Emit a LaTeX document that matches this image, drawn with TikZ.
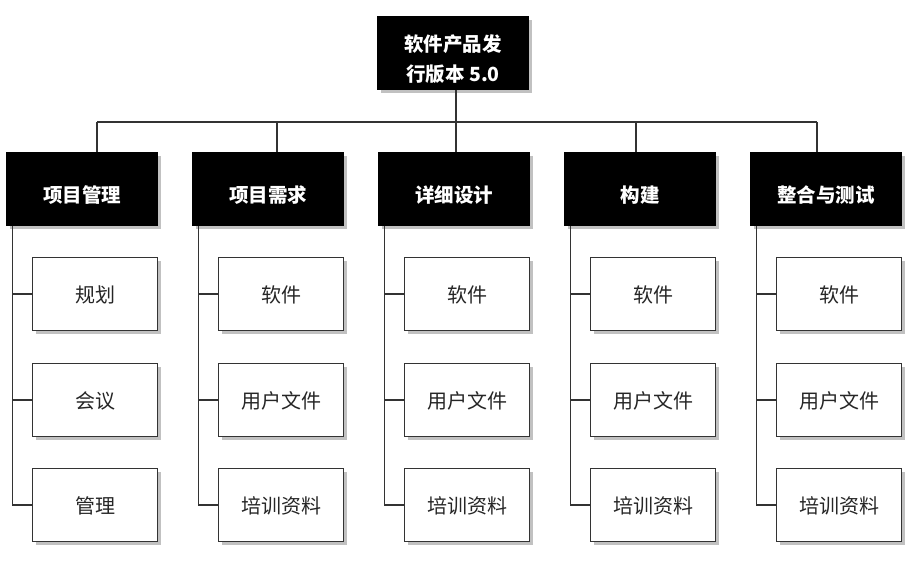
\documentclass[tikz,border=0pt]{standalone}
\usepackage{fontspec}
\setmainfont{Noto Sans CJK SC}
\usetikzlibrary{positioning, shadows, calc}

\begin{document}
\begin{tikzpicture}[x=1pt, y=-1pt,
    link/.style={draw=black!80, line width=1.3pt},
    shade3/.style={drop shadow={shadow xshift=3pt, shadow yshift=-3pt, fill=black!35, opacity=.7}},
    headbox/.style={shade3, fill=black, draw=black, text=white, align=center,
        font=\bfseries\fontsize{19.5}{30}\selectfont,
        minimum width=151pt, minimum height=73pt, inner sep=0pt},
    phasebox/.style={headbox, text height=30pt, text depth=3pt},
    itembox/.style={shade3, fill=white, draw=black!80, line width=1.4pt, text=black!85,
        font=\fontsize{20}{24}\selectfont, text height=21pt, text depth=4pt,
        minimum width=125pt, minimum height=73pt, inner sep=0pt}]
    \useasboundingbox (0,0) rectangle (915,563);

    % root
    \node[headbox] (root) at (453,53) {\rule{0pt}{29pt}软件产品发\\行版本 5.0};

    % phases
    \node[phasebox] (p1) at (82,189) {项目管理};
    \node[phasebox] (p2) at (268,189) {项目需求};
    \node[phasebox] (p3) at (454,189) {详细设计};
    \node[phasebox] (p4) at (640,189) {构建};
    \node[phasebox] (p5) at (826,189) {整合与测试};

    % bus to the phases
    \coordinate (d1) at (97,122);
    \coordinate (d2) at (277,122);
    \coordinate (d3) at (456,122);
    \coordinate (d4) at (636,122);
    \coordinate (d5) at (817,122);
    \draw[link] (root.south -| d3) -- (d3);
    \draw[link] (d1) -- (d5);
    \foreach \i in {1,...,5}
        \draw[link] (d\i) -- (d\i |- p\i.north);

    % items of each phase
    \node[itembox] (p1a) at (95,294) {规划};
    \node[itembox] (p1b) at (95,400) {会议};
    \node[itembox] (p1c) at (95,505) {管理};
    \node[itembox] (p2a) at (281,294) {软件};
    \node[itembox] (p2b) at (281,400) {用户文件};
    \node[itembox] (p2c) at (281,505) {培训资料};
    \node[itembox] (p3a) at (467,294) {软件};
    \node[itembox] (p3b) at (467,400) {用户文件};
    \node[itembox] (p3c) at (467,505) {培训资料};
    \node[itembox] (p4a) at (653,294) {软件};
    \node[itembox] (p4b) at (653,400) {用户文件};
    \node[itembox] (p4c) at (653,505) {培训资料};
    \node[itembox] (p5a) at (839,294) {软件};
    \node[itembox] (p5b) at (839,400) {用户文件};
    \node[itembox] (p5c) at (839,505) {培训资料};

    % side rails
    \foreach \i in {1,...,5} {
        \coordinate (r\i) at ($(p\i.south west)+(6,0)$);
        \draw[link] (r\i) |- (p\i c.west);
        \draw[link] (r\i |- p\i a.west) -- (p\i a.west);
        \draw[link] (r\i |- p\i b.west) -- (p\i b.west);
    }
\end{tikzpicture}
\end{document}
